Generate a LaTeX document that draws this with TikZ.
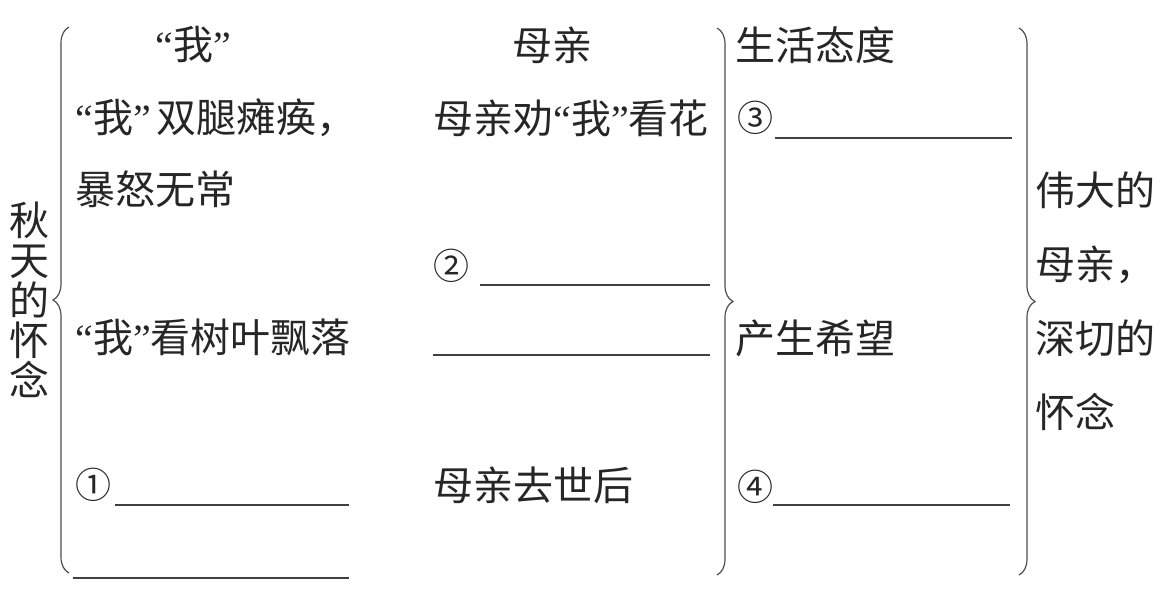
\documentclass[tikz,border=0pt]{standalone}
\usepackage{fontspec}
\setmainfont{Noto Sans CJK SC}
\newfontfamily\widefont{Noto Sans CJK SC}[RawFeature={+fwid}]
\newfontfamily\quotefont{Liberation Serif}
\newcommand{\quoted}[1]{{\quotefont “}#1{\quotefont ”}}
\usepackage{tikz}
\usetikzlibrary{positioning, decorations.pathreplacing, calc}
\usepackage{xcolor}

\begin{document}
\begin{tikzpicture}[
    x=0.5pt,
    y=-0.5pt,
    cell_text/.style={
        anchor=west,
        inner sep=0pt,
        text=black!85,
        align=left,
        font=\fontsize{20}{36}\selectfont
    },
    col_head/.style={
        cell_text,
        anchor=center
    },
    num_mark/.style={
        cell_text,
        font=\widefont\fontsize{18}{20}\selectfont
    },
    blank_line/.style={
        draw=black!75,
        line width=0.6pt
    },
    side_brace/.style={
        draw=black!70,
        line width=0.6pt,
        decorate,
        decoration={brace, amplitude=8pt}
    }
]
\useasboundingbox (0,0) rectangle (1169,602);

% Title on the far left, written top to bottom
\node[cell_text, anchor=center, align=center, font=\fontsize{20}{20}\selectfont] (title) at (30,300) {秋\\天\\的\\怀\\念};

% Column heads
\node[col_head] (me_head) at (193,45) {\quoted{我}};
\node[col_head] (mom_head) at (552,45) {母亲};
\node[cell_text] (attitude) at (735,45) {生活态度};

% Row 1
\node[cell_text] (me_row1) at (75,153) {\quoted{我}\kern3pt 双腿瘫痪，\\暴怒无常};
\node[cell_text] (mom_row1) at (433,118) {母亲劝\quoted{我}看花};
\node[num_mark] (num3) at (737,118) {③};
\coordinate (blank3_s) at (775,138);
\coordinate (blank3_e) at (1012,138);

\node[num_mark] (num2) at (433,266) {②};
\coordinate (blank2_s) at (480,285);
\coordinate (blank2_e) at (710,285);
\coordinate (blank2b_s) at (433,355);
\coordinate (blank2b_e) at (710,355);

% Row 2
\node[cell_text] (me_row2) at (75,337) {\quoted{我}看树叶飘落};
\node[cell_text] (hope) at (735,338) {产生希望};

\node[num_mark] (num1) at (75,485) {①};
\coordinate (blank1_s) at (115,505);
\coordinate (blank1_e) at (349,505);
\coordinate (blank1b_s) at (73,578);
\coordinate (blank1b_e) at (349,578);

\node[cell_text] (mom_row2) at (433,485) {母亲去世后};
\node[num_mark] (num4) at (737,487) {④};
\coordinate (blank4_s) at (773,505);
\coordinate (blank4_e) at (1010,505);

% Summary on the right
\node[cell_text, font=\fontsize{20}{37}\selectfont] (summary) at (1035,301) {伟大的\\母亲，\\深切的\\怀念};

% Answer lines
\draw[blank_line] (blank1_s) -- (blank1_e);
\draw[blank_line] (blank1b_s) -- (blank1b_e);
\draw[blank_line] (blank2_s) -- (blank2_e);
\draw[blank_line] (blank2b_s) -- (blank2b_e);
\draw[blank_line] (blank3_s) -- (blank3_e);
\draw[blank_line] (blank4_s) -- (blank4_e);

% Braces
\coordinate (lb_bot) at (69,573);
\coordinate (lb_top) at (69,27);
\coordinate (mb_top) at (717,28);
\coordinate (mb_bot) at (717,575);
\coordinate (rb_top) at (1019,28);
\coordinate (rb_bot) at (1019,575);

\draw[side_brace] (lb_bot) -- (lb_top);
\draw[side_brace] (mb_top) -- (mb_bot);
\draw[side_brace] (rb_top) -- (rb_bot);

\end{tikzpicture}
\end{document}
